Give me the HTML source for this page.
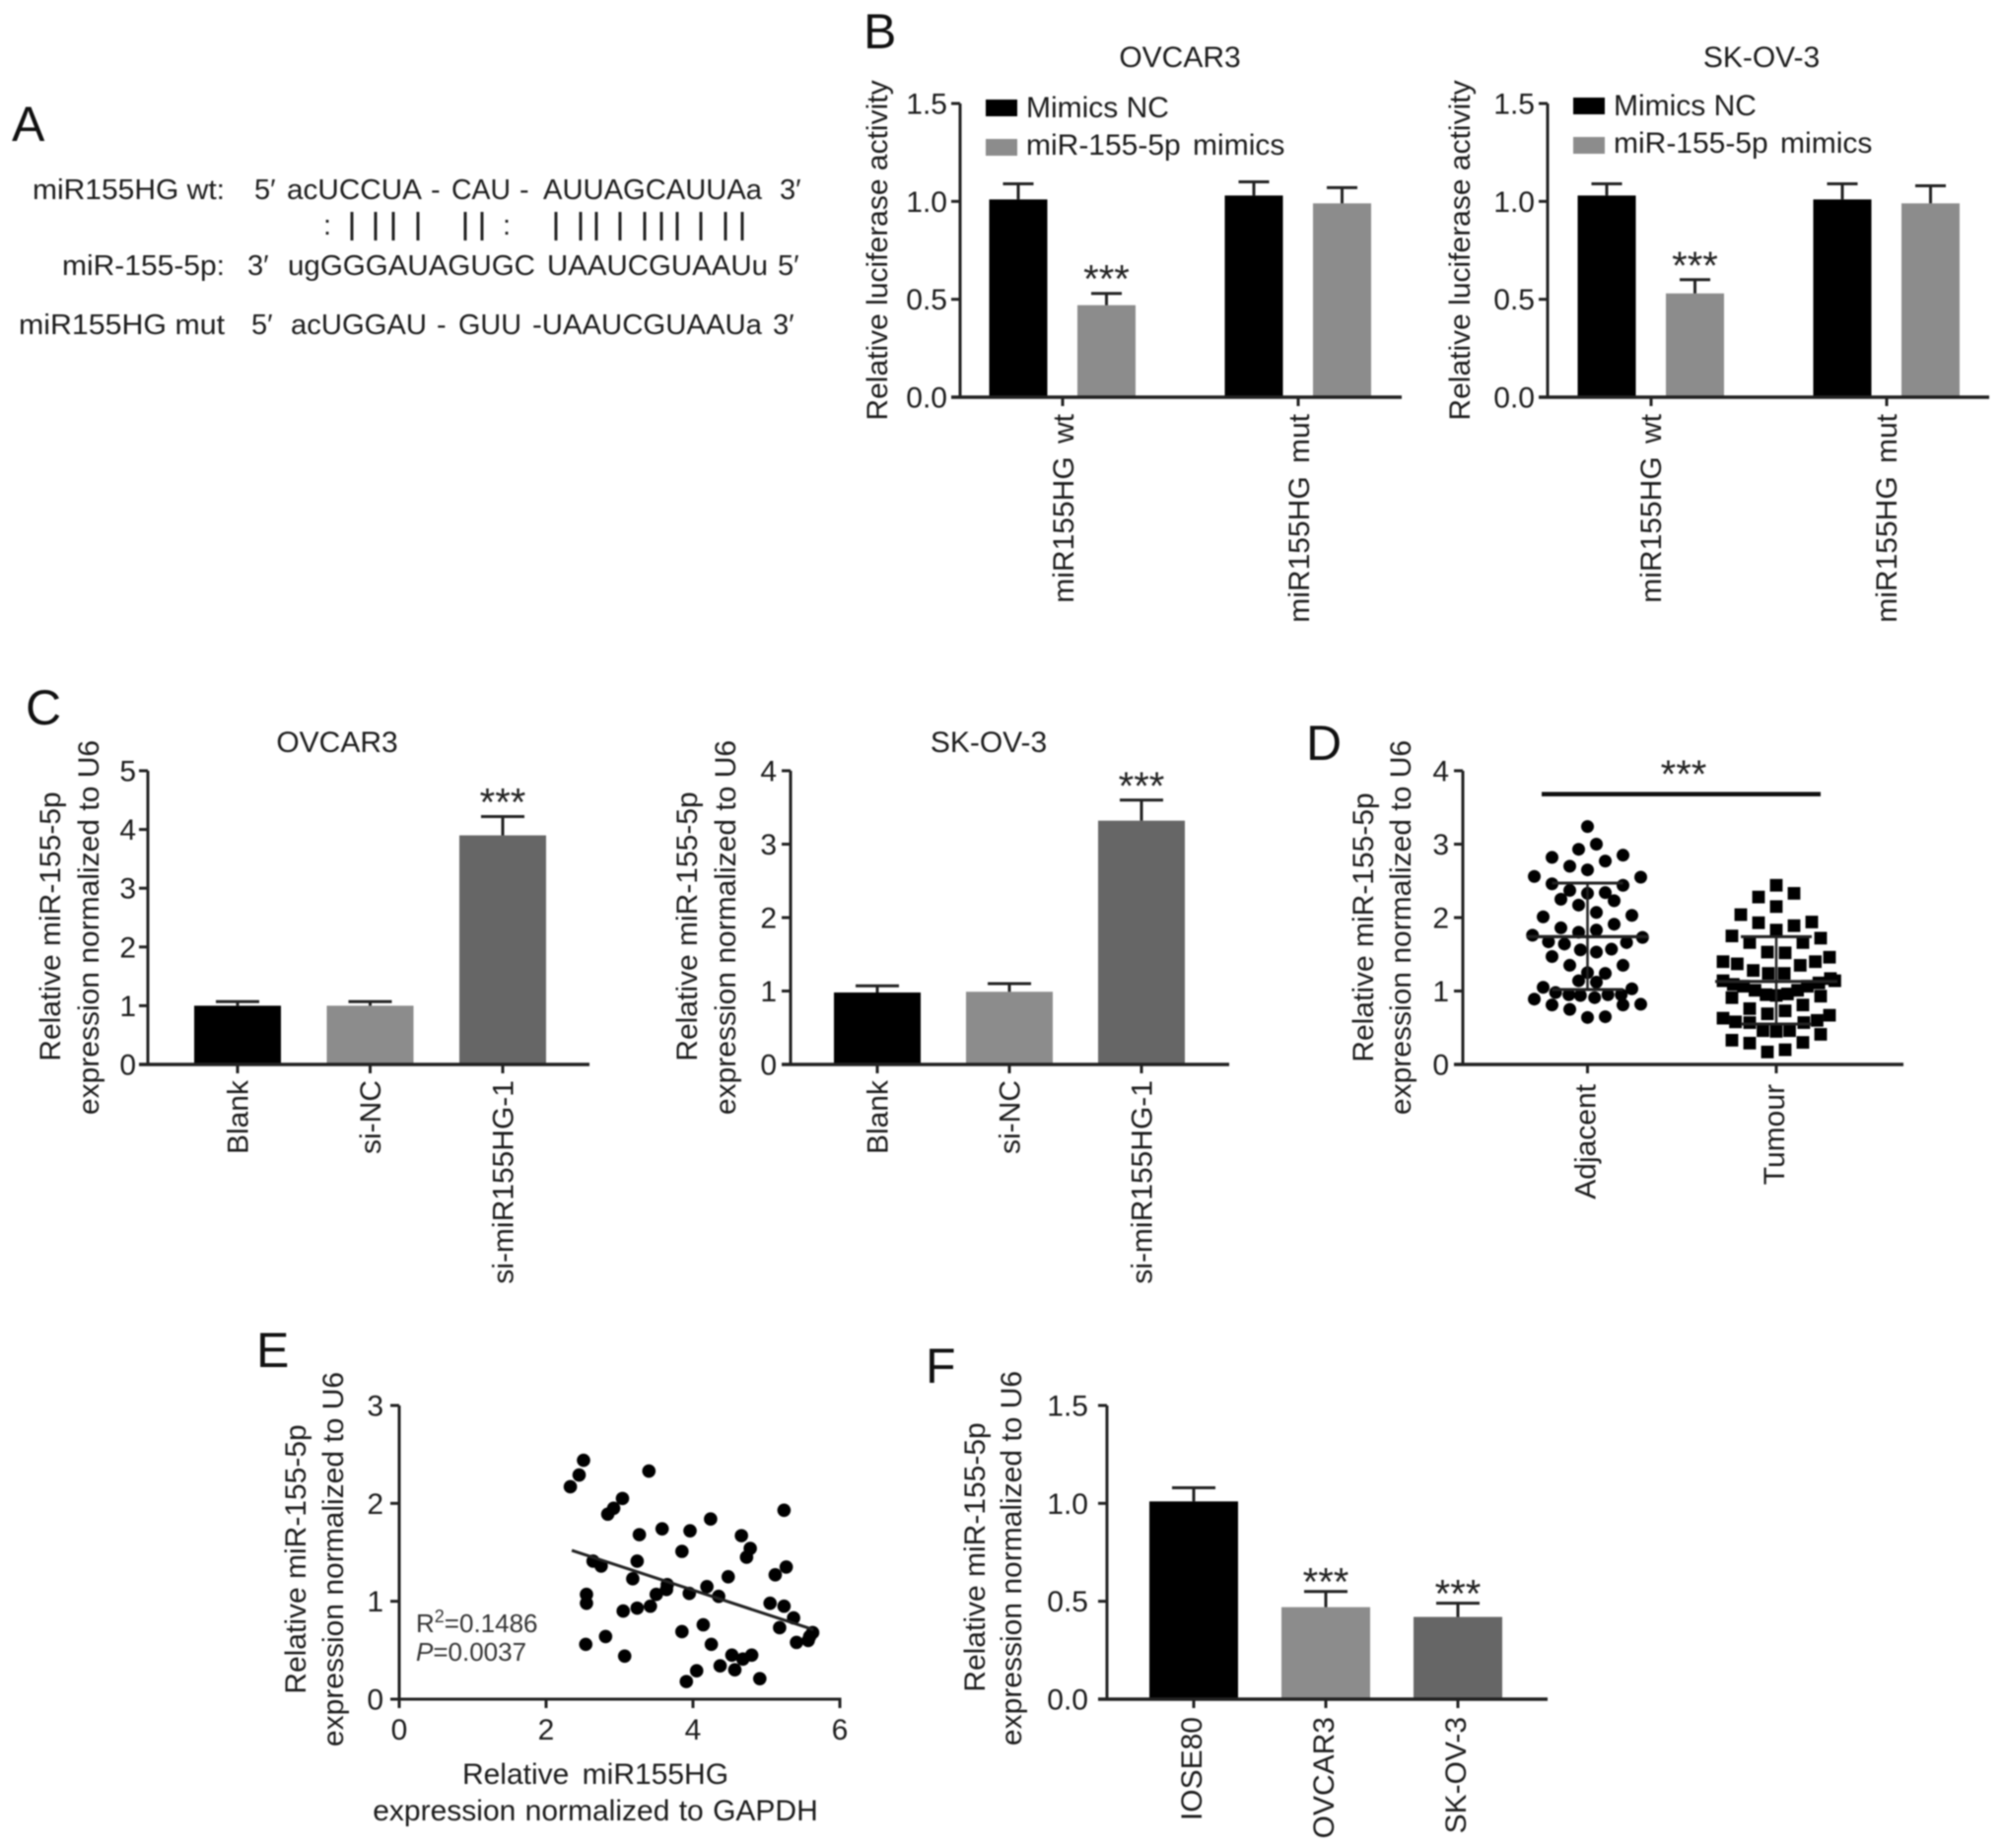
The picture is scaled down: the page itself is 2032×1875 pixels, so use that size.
<!DOCTYPE html>
<html lang="en">
<head>
<meta charset="utf-8">
<title>miR-155-5p multi-panel figure</title>
<style>
html,body{margin:0;padding:0;background:#fff}
svg{display:block;filter:blur(.7px)}
text{font-family:"Liberation Sans",Arial,sans-serif;font-size:30px;fill:#1c1c1c}
.letter{font-size:50px;fill:#111}
.seq{font-size:29px}
.stat{font-size:26px;fill:#333}
.stars{font-size:40px;fill:#222}
.bp{stroke:#222;stroke-width:3}
</style>
</head>
<body>
<svg id="figure" xmlns="http://www.w3.org/2000/svg" width="2032" height="1875" viewBox="0 0 2032 1875">
<rect width="2032" height="1875" fill="#fff"/>

<text class="letter" x="12" y="143">A</text>
<text class="letter" x="876" y="49">B</text>
<text class="letter" x="26" y="735">C</text>
<text class="letter" x="1325" y="771">D</text>
<text class="letter" x="260" y="1387">E</text>
<text class="letter" x="939" y="1403">F</text>

<g>
<text class="seq" x="33" y="202" textLength="195" lengthAdjust="spacingAndGlyphs">miR155HG wt:</text>
<text class="seq" x="258" y="202">5′</text>
<text class="seq" x="291" y="202" textLength="137" lengthAdjust="spacingAndGlyphs">acUCCUA</text>
<text class="seq" x="437" y="202">-</text>
<text class="seq" x="458" y="202" textLength="60" lengthAdjust="spacingAndGlyphs">CAU</text>
<text class="seq" x="527" y="202">-</text>
<text class="seq" x="551" y="202" textLength="222" lengthAdjust="spacingAndGlyphs">AUUAGCAUUAa</text>
<text class="seq" x="791" y="202">3′</text>

<g>
<text class="seq" x="328" y="238">:</text>
<line class="bp" x1="357" x2="357" y1="215" y2="244"/>
<line class="bp" x1="381" x2="381" y1="215" y2="244"/>
<line class="bp" x1="399" x2="399" y1="215" y2="244"/>
<line class="bp" x1="424" x2="424" y1="215" y2="244"/>
<line class="bp" x1="472" x2="472" y1="215" y2="244"/>
<line class="bp" x1="489" x2="489" y1="215" y2="244"/>
<text class="seq" x="510" y="238">:</text>
<line class="bp" x1="564" x2="564" y1="215" y2="244"/>
<line class="bp" x1="589" x2="589" y1="215" y2="244"/>
<line class="bp" x1="605" x2="605" y1="215" y2="244"/>
<line class="bp" x1="629" x2="629" y1="215" y2="244"/>
<line class="bp" x1="654" x2="654" y1="215" y2="244"/>
<line class="bp" x1="671" x2="671" y1="215" y2="244"/>
<line class="bp" x1="687" x2="687" y1="215" y2="244"/>
<line class="bp" x1="711" x2="711" y1="215" y2="244"/>
<line class="bp" x1="736" x2="736" y1="215" y2="244"/>
<line class="bp" x1="753" x2="753" y1="215" y2="244"/>
</g>

<text class="seq" x="63" y="279" textLength="165" lengthAdjust="spacingAndGlyphs">miR-155-5p:</text>
<text class="seq" x="251" y="279">3′</text>
<text class="seq" x="292" y="279" textLength="251" lengthAdjust="spacingAndGlyphs">ugGGGAUAGUGC</text>
<text class="seq" x="555" y="279" textLength="224" lengthAdjust="spacingAndGlyphs">UAAUCGUAAUu</text>
<text class="seq" x="789" y="279">5′</text>

<text class="seq" x="19" y="339" textLength="209" lengthAdjust="spacingAndGlyphs">miR155HG mut</text>
<text class="seq" x="255" y="339">5′</text>
<text class="seq" x="295" y="339" textLength="138" lengthAdjust="spacingAndGlyphs">acUGGAU</text>
<text class="seq" x="443" y="339">-</text>
<text class="seq" x="465" y="339" textLength="64" lengthAdjust="spacingAndGlyphs">GUU</text>
<text class="seq" x="540" y="339" textLength="233" lengthAdjust="spacingAndGlyphs">-UAAUCGUAAUa</text>
<text class="seq" x="784" y="339">3′</text>
</g>

<text x="1197" y="68" text-anchor="middle">OVCAR3</text>
<text x="1787" y="68" text-anchor="middle">SK-OV-3</text>
<text transform="translate(900,254) rotate(-90)" text-anchor="middle">Relative luciferase activity</text>
<text transform="translate(1491,254) rotate(-90)" text-anchor="middle">Relative luciferase activity</text>

<text x="342" y="763" text-anchor="middle">OVCAR3</text>
<text x="1003" y="763" text-anchor="middle">SK-OV-3</text>
<text transform="translate(61,940) rotate(-90)" text-anchor="middle">Relative miR-155-5p</text>
<text transform="translate(100,941) rotate(-90)" text-anchor="middle">expression normalized to U6</text>
<text transform="translate(707,940) rotate(-90)" text-anchor="middle">Relative miR-155-5p</text>
<text transform="translate(746,941) rotate(-90)" text-anchor="middle">expression normalized to U6</text>

<text transform="translate(1393,941) rotate(-90)" text-anchor="middle">Relative miR-155-5p</text>
<text transform="translate(1431,941) rotate(-90)" text-anchor="middle">expression normalized to U6</text>
<text class="stars" x="1708" y="799" text-anchor="middle">***</text>

<text transform="translate(310,1582) rotate(-90)" text-anchor="middle">Relative miR-155-5p</text>
<text transform="translate(348,1582) rotate(-90)" text-anchor="middle">expression normalized to U6</text>
<text x="604" y="1810" text-anchor="middle" style="word-spacing:5px">Relative miR155HG</text>
<text x="604" y="1847" text-anchor="middle" style="word-spacing:1px">expression normalized to GAPDH</text>
<text class="stat" x="422" y="1656">R<tspan font-size="18" dy="-10">2</tspan><tspan dy="10">=0.1486</tspan></text>
<text class="stat" x="422" y="1685"><tspan font-style="italic">P</tspan>=0.0037</text>

<text transform="translate(999,1580) rotate(-90)" text-anchor="middle">Relative miR-155-5p</text>
<text transform="translate(1036,1581) rotate(-90)" text-anchor="middle">expression normalized to U6</text>

<g id="charts"></g>
</svg>

<script>
// ---------- Panel B ----------
const bCategories = ['miR155HG wt', 'miR155HG mut'];
const bSeriesNames = ['Mimics NC', 'miR-155-5p mimics'];
const bTickLabels = ['0.0', '0.5', '1.0', '1.5'];
const bTickValues = [0, 0.5, 1, 1.5];
const bOvcarNC = [1.01, 1.03];
const bOvcarNCTop = [1.09, 1.10];
const bOvcarMimic = [0.47, 0.99];
const bOvcarMimicTop = [0.53, 1.07];
const bOvcarMimicSig = [true, false];
const bSkovNC = [1.03, 1.01];
const bSkovNCTop = [1.09, 1.09];
const bSkovMimic = [0.53, 0.99];
const bSkovMimicTop = [0.60, 1.08];
const bSkovMimicSig = [true, false];

// ---------- Panel C ----------
const cCategories = ['Blank', 'si-NC', 'si-miR155HG-1'];
const cOvcarTickLabels = ['0', '1', '2', '3', '4', '5'];
const cOvcarTickValues = [0, 1, 2, 3, 4, 5];
const cOvcarValues = [1.0, 1.0, 3.9];
const cOvcarTop = [1.07, 1.07, 4.22];
const cOvcarSig = [false, false, true];
const cSkovTickLabels = ['0', '1', '2', '3', '4'];
const cSkovTickValues = [0, 1, 2, 3, 4];
const cSkovValues = [0.98, 0.99, 3.32];
const cSkovTop = [1.07, 1.10, 3.6];
const cSkovSig = [false, false, true];

// ---------- Panel D ----------
const dCategories = ['Adjacent', 'Tumour'];
const dTickLabels = ['0', '1', '2', '3', '4'];
const dTickValues = [0, 1, 2, 3, 4];
const adjacentValues = [3.24,3.0,2.93,2.82,2.85,2.70,2.77,2.65,2.56,2.55,2.46,2.44,2.37,2.34,2.33,2.25,2.23,2.17,2.07,2.01,2.03,1.91,1.86,1.80,1.83,1.76,1.73,1.67,1.64,1.66,1.56,1.53,1.57,1.47,1.35,1.35,1.25,1.24,1.14,1.12,1.05,1.03,0.98,0.95,0.94,0.91,0.95,0.95,0.89,0.81,0.81,0.82,0.75,0.64,0.65];
const adjacentSwarmSlot = [0,1,-1,-4,4,-2,2,0,-6,6,-4,4,-2,2,0,-3,3,-1,1,-5,5,3,-3,-1,1,-6.2,6.2,-4.4,-2.6,4.4,-0.8,1,2.7,-4,-2,4,0,2,-1,1,-5,5,-3.6,-2.1,-0.8,0.8,2.3,3.8,-6,-4,4,6,-2,0,2];
const adjacentStats = [1.74, 2.47, 1.02];
const tumourValues = [2.44,2.28,2.33,2.15,2.04,1.93,1.89,1.94,1.83,1.75,1.72,1.66,1.66,1.53,1.52,1.46,1.40,1.37,1.40,1.35,1.28,1.24,1.24,1.14,1.09,1.065,1.01,0.95,0.94,0.96,1.01,1.065,1.11,1.17,1.14,0.91,0.93,0.76,0.73,0.69,0.81,0.67,0.63,0.58,0.57,0.60,0.57,0.46,0.45,0.46,0.41,0.33,0.29,0.30,0.17,0.20];
const tumourSwarmSlot = [0,-2,2,0,-4,-2,2,4,0,-5,5,-3,3,-1,1,6,-6,-4.4,4.4,2.7,-2.6,-0.9,0.9,-6,-4.85,-3.7,-2.4,-1.15,0,1.26,2.4,3.5,4.8,6.1,6.6,-5,5,-3,1,-1,3,6,-6,-4.6,-3,4.6,3.1,-1.5,0,1.5,5,-5,-3,3,-1,1];
const tumourStats = [1.13, 1.74, 0.55];

// ---------- Panel E ----------
const eXTickLabels = ['0', '2', '4', '6'];
const eXTickValues = [0, 2, 4, 6];
const eYTickLabels = ['0', '1', '2', '3'];
const eYTickValues = [0, 1, 2, 3];
const eX = [2.33,2.45,2.51,3.40,3.04,2.92,2.84,5.24,4.24,3.58,3.96,3.27,4.66,4.78,3.85,4.73,3.24,2.64,2.75,5.27,5.12,4.48,3.18,3.65,4.19,3.64,3.50,3.95,4.35,2.55,2.55,3.24,3.42,3.05,5.05,5.24,5.37,4.14,5.18,3.85,2.81,5.63,5.59,5.57,5.41,2.54,4.25,3.07,4.53,4.80,4.68,4.37,4.57,4.05,3.91,4.91];
const eY = [2.17,2.29,2.44,2.33,2.05,1.95,1.89,1.93,1.84,1.74,1.72,1.68,1.67,1.54,1.51,1.45,1.41,1.41,1.36,1.35,1.27,1.25,1.23,1.17,1.15,1.12,1.07,1.08,1.05,1.07,0.98,0.93,0.95,0.90,0.98,0.95,0.83,0.76,0.73,0.69,0.64,0.68,0.64,0.60,0.58,0.56,0.56,0.44,0.45,0.45,0.41,0.34,0.30,0.29,0.18,0.21];
const eTrendX = [2.35, 5.64];
const eTrendY = [1.52, 0.71];

// ---------- Panel F ----------
const fCategories = ['IOSE80', 'OVCAR3', 'SK-OV-3'];
const fTickLabels = ['0.0', '0.5', '1.0', '1.5'];
const fTickValues = [0, 0.5, 1, 1.5];
const fValues = [1.01, 0.47, 0.42];
const fTop = [1.08, 0.55, 0.49];
const fSig = [false, true, true];

const SVG_NS = 'http://www.w3.org/2000/svg';
const INK = '#222';
const BLACK_BAR = '#000';
const GREY_BAR = '#8c8c8c';
const DARK_BAR = '#666';
const root = document.getElementById('charts');

function make(parent, tag, props) {
  const el = document.createElementNS(SVG_NS, tag);
  for (const key in props) el.setAttribute(key, props[key]);
  parent.appendChild(el);
  return el;
}

function linear(d0, d1, r0, r1) {
  return function (v) { return r0 + (v - d0) * (r1 - r0) / (d1 - d0); };
}

function hLine(parent, x1, x2, y, w) {
  return make(parent, 'line', { x1: x1, x2: x2, y1: y, y2: y, stroke: INK, 'stroke-width': w });
}

function vLine(parent, x, y1, y2, w) {
  return make(parent, 'line', { x1: x, x2: x, y1: y1, y2: y2, stroke: INK, 'stroke-width': w });
}

function drawYAxis(g, axis, yScale, tickValues, tickLabels) {
  const line = vLine(g, axis.x, yScale(axis.max), yScale(0) + 1.5, 3);
  
  
  const base = hLine(g, axis.x - 9, axis.xEnd, yScale(0), 3.4);
  
  
  tickValues.forEach(function (v, i) {
    const tick = hLine(g, axis.x - 9, axis.x, yScale(v), 3);
    
    
    const label = make(g, 'text', { x: axis.labelRight, y: yScale(v) + 10.5, 'text-anchor': 'end' });
    label.textContent = tickLabels[i];
    
    
  });
}

function drawCategory(g, name, x, axisBase, axis) {
  const tick = vLine(g, x, axisBase, axisBase + 9, 3);
  
  
  const px = x + axis.labelOffset;
  const label = make(g, 'text', { transform: 'translate(' + px + ',' + axis.labelTop + ') rotate(-90)', 'text-anchor': 'end', style: 'word-spacing:' + (axis.wordGap || 0) + 'px' });
  label.textContent = name;
  
  
}

function drawBar(g, cx, width, value, top, fill, sig, yScale, capHalf, starLift) {
  const bar = make(g, 'rect', { x: cx - width / 2, y: yScale(value), width: width, height: yScale(0) - yScale(value), fill: fill });
  
  
  const stem = vLine(g, cx, yScale(top), yScale(value), 3);
  
  
  const cap = hLine(g, cx - capHalf, cx + capHalf, yScale(top), 3);
  
  
  if (sig) {
    const stars = make(g, 'text', { x: cx, y: yScale(top) + 4 - starLift, 'text-anchor': 'middle', class: 'stars' });
    stars.textContent = '***';
    
    
  }
}

function drawGrouped(axis, a, aTop, b, bTop, bSig) {
  const g = make(root, 'g', {});
  
  
  const yScale = linear(0, axis.max, axis.base, axis.top);
  bCategories.forEach(function (name, i) {
    const c = axis.first + i * axis.step;
    drawBar(g, c - 45, 59, a[i], aTop[i], BLACK_BAR, false, yScale, 15.5, axis.starLift);
    drawBar(g, c + 44.5, 59, b[i], bTop[i], GREY_BAR, bSig[i], yScale, 15.5, axis.starLift);
    drawCategory(g, name, c, axis.base, axis);
  });
  drawYAxis(g, axis, yScale, bTickValues, bTickLabels);
  const swatchA = make(g, 'rect', { x: axis.legendX, y: axis.legendY, width: 32, height: 17, fill: BLACK_BAR });
  
  
  const swatchB = make(g, 'rect', { x: axis.legendX, y: axis.legendY + 40, width: 32, height: 17, fill: GREY_BAR });
  
  
  const textA = make(g, 'text', { x: axis.legendX + 41, y: axis.legendY + 18 });
  textA.textContent = bSeriesNames[0];
  
  
  const textB = make(g, 'text', { x: axis.legendX + 41, y: axis.legendY + 56, style: 'word-spacing:4px' });
  textB.textContent = bSeriesNames[1];
  
  
}

function drawSimple(axis, categories, values, tops, sig, tickValues, tickLabels) {
  const g = make(root, 'g', {});
  
  
  const yScale = linear(0, axis.max, axis.base, axis.top);
  const fills = [BLACK_BAR, GREY_BAR, DARK_BAR];
  categories.forEach(function (name, i) {
    const c = axis.first + i * axis.step;
    drawBar(g, c, axis.barW, values[i], tops[i], fills[i], sig[i], yScale, 22, axis.starLift);
    drawCategory(g, name, c, axis.base, axis);
  });
  drawYAxis(g, axis, yScale, tickValues, tickLabels);
}

function drawSwarm(g, values, slots, stats, cx, yScale, shape) {
  values.forEach(function (v, i) {
    const px = cx + slots[i] * 9;
    const py = yScale(v);
    if (shape === 'circle') {
      const dot = make(g, 'circle', { cx: px, cy: py, r: 6.5, fill: '#000' });
      
      
    } else {
      const sq = make(g, 'rect', { x: px - 6.4, y: py - 6.4, width: 12.8, height: 12.8, fill: '#000' });
      
      
    }
  });
  const stem = vLine(g, cx, yScale(stats[1]), yScale(stats[2]), 2.5);
  
  
  const mean = hLine(g, cx - 62, cx + 62, yScale(stats[0]), 3.2);
  
  
  const up = hLine(g, cx - 36, cx + 36, yScale(stats[1]), 3);
  
  
  const low = hLine(g, cx - 36, cx + 36, yScale(stats[2]), 3);
  
  
}

function drawPanelD() {
  const axis = { x: 1484, xEnd: 1931, max: 4, base: 1080, top: 782, labelRight: 1470, labelOffset: 8, labelTop: 1100 };
  const g = make(root, 'g', {});
  
  
  const yScale = linear(0, axis.max, axis.base, axis.top);
  const centres = linear(0, 1, 1610.5, 1802);
  drawSwarm(g, adjacentValues, adjacentSwarmSlot, adjacentStats, centres(0), yScale, 'circle');
  drawSwarm(g, tumourValues, tumourSwarmSlot, tumourStats, centres(1), yScale, 'square');
  dCategories.forEach(function (name, i) {
    drawCategory(g, name, centres(i), axis.base, axis);
  });
  drawYAxis(g, axis, yScale, dTickValues, dTickLabels);
  const sigLine = make(g, 'rect', { x: 1564, y: 803.5, width: 283, height: 4.5, fill: '#111' });
  
  
}

function drawPanelE() {
  const g = make(root, 'g', {});
  
  
  const xScale = linear(0, 6, 405, 852);
  const yScale = linear(0, 3, 1724, 1426);
  const yAxis = vLine(g, xScale(0), yScale(3), yScale(0), 3);
  
  
  const xAxis = hLine(g, xScale(0) - 9, xScale(6) + 1.5, yScale(0), 3);
  
  
  eYTickValues.forEach(function (v, i) {
    const tick = hLine(g, xScale(0) - 9, xScale(0), yScale(v), 3);
    
    
    const label = make(g, 'text', { x: 389, y: yScale(v) + 10.5, 'text-anchor': 'end' });
    label.textContent = eYTickLabels[i];
    
    
  });
  eXTickValues.forEach(function (v, i) {
    const tick = vLine(g, xScale(v), yScale(0), yScale(0) + 9, 3);
    
    
    const label = make(g, 'text', { x: xScale(v), y: 1765, 'text-anchor': 'middle' });
    label.textContent = eXTickLabels[i];
    
    
  });
  eX.forEach(function (v, i) {
    const dot = make(g, 'circle', { cx: xScale(v), cy: yScale(eY[i]), r: 6.8, fill: '#000' });
    
    
  });
  const trend = make(g, 'line', { x1: xScale(eTrendX[0]), y1: yScale(eTrendY[0]), x2: xScale(eTrendX[1]), y2: yScale(eTrendY[1]), stroke: INK, 'stroke-width': 3 });
  
  
}

drawGrouped({ x: 974, xEnd: 1422, max: 1.5, base: 403, top: 105, labelRight: 961, labelOffset: 11, labelTop: 420, wordGap: 5, starLift: 5, first: 1078, step: 239, legendX: 1000, legendY: 101 }, bOvcarNC, bOvcarNCTop, bOvcarMimic, bOvcarMimicTop, bOvcarMimicSig);
drawGrouped({ x: 1570, xEnd: 2018, max: 1.5, base: 403, top: 105, labelRight: 1557, labelOffset: 10, labelTop: 420, wordGap: 5, starLift: 5, first: 1675, step: 239, legendX: 1596, legendY: 99 }, bSkovNC, bSkovNCTop, bSkovMimic, bSkovMimicTop, bSkovMimicSig);
drawSimple({ x: 150, xEnd: 598, max: 5, base: 1080, top: 782, labelRight: 138, labelOffset: 10.5, labelTop: 1096, wordGap: 0, starLift: 5, first: 241, step: 134.5, barW: 88 }, cCategories, cOvcarValues, cOvcarTop, cOvcarSig, cOvcarTickValues, cOvcarTickLabels);
drawSimple({ x: 802, xEnd: 1247, max: 4, base: 1080, top: 782, labelRight: 788, labelOffset: 10.5, labelTop: 1096, wordGap: 0, starLift: 5, first: 890, step: 134, barW: 88 }, cCategories, cSkovValues, cSkovTop, cSkovSig, cSkovTickValues, cSkovTickLabels);
drawPanelD();
drawPanelE();
drawSimple({ x: 1123, xEnd: 1570, max: 1.5, base: 1724, top: 1426, labelRight: 1104, labelOffset: 8, labelTop: 1742, wordGap: 0, starLift: 0, first: 1211, step: 134, barW: 90 }, fCategories, fValues, fTop, fSig, fTickValues, fTickLabels);
</script>
</body>
</html>
